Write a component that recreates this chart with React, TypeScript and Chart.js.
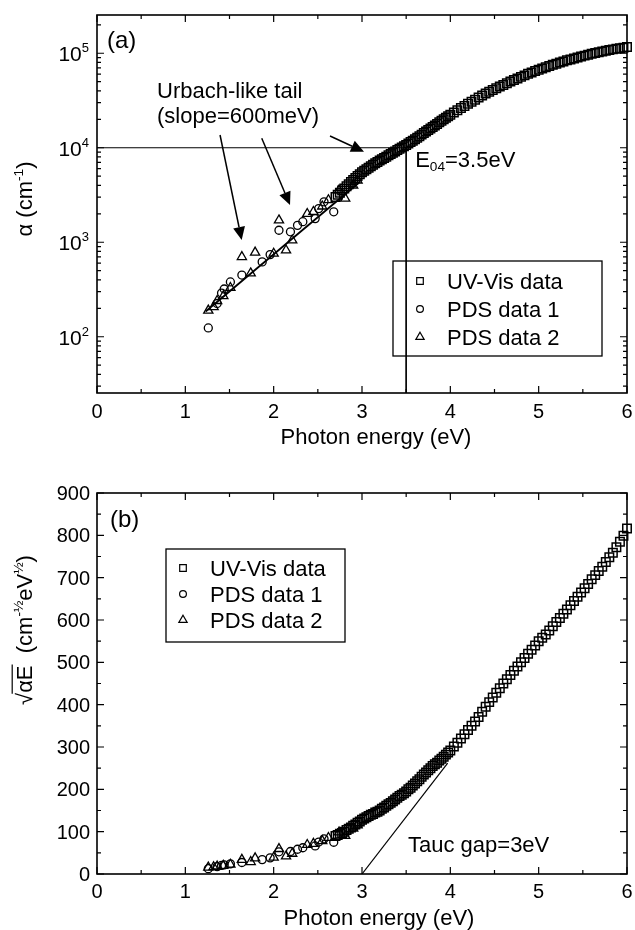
import React, { useEffect, useRef } from 'react';
import { Chart, registerables } from 'chart.js';
Chart.register(...registerables);

// ---------------- DATA ----------------
const xTickValues = [0, 1, 2, 3, 4, 5, 6];
const yTicksA = [100, 1000, 10000, 100000];
const yTicksB = [0, 100, 200, 300, 400, 500, 600, 700, 800, 900];

const uvEnergy = [
  2.7, 2.725, 2.75, 2.775, 2.8, 2.825, 2.85, 2.875, 2.9, 2.925, 2.95, 2.975, 3.0, 3.025, 3.05, 3.075, 3.1, 3.125,
  3.15, 3.175, 3.2, 3.225, 3.25, 3.275, 3.3, 3.325, 3.35, 3.375, 3.4, 3.425, 3.45, 3.475, 3.5, 3.525, 3.55, 3.575,
  3.6, 3.625, 3.65, 3.675, 3.7, 3.725, 3.75, 3.775, 3.8, 3.825, 3.85, 3.875, 3.9, 3.925, 3.95, 3.975, 4.0,
  4.04, 4.08, 4.12, 4.16, 4.2, 4.24, 4.28, 4.32, 4.36, 4.4, 4.44, 4.48, 4.52, 4.56, 4.6, 4.64, 4.68, 4.72, 4.76, 4.8,
  4.84, 4.88, 4.92, 4.96, 5.0, 5.04, 5.08, 5.12, 5.16, 5.2, 5.24, 5.28, 5.32, 5.36, 5.4, 5.44, 5.48, 5.52, 5.56, 5.6,
  5.64, 5.68, 5.72, 5.76, 5.8, 5.84, 5.88, 5.92, 5.96, 6.0,
];
// panel (a): absorption coefficient alpha (cm^-1)
const uvAlpha = [
  3020, 3181, 3350, 3528, 3715, 3913, 4121, 4340, 4571, 4786, 5012, 5248, 5495, 5702, 5922, 6152, 6383, 6607,
  6839, 7079, 7328, 7568, 7807, 8054, 8318, 8590, 8861, 9141, 9441, 9750, 10058, 10375, 10715, 11092, 11482, 11885,
  12303, 12764, 13262, 13772, 14289, 14825, 15396, 15996, 16596, 17219, 17885, 18578, 19275, 19999, 20773, 21577, 22387,
  23660, 25003, 26363, 27733, 29174, 30690, 32285, 33963, 35727, 37584, 39174, 40832, 42560, 44361, 46238, 48195,
  50234, 52240, 54200, 56234, 58345, 60534, 62661, 64714, 66834, 69024, 71285, 73451, 75509, 77625, 79799, 82035,
  84140, 86099, 88105, 90157, 92257, 94406, 96605, 98855, 100693, 102565, 104472, 106414, 108393, 109901, 111429,
  112980, 114551, 116145,
];
// panel (b): sqrt(alpha*E)
const uvTauc = [
  90, 92, 95, 97, 100, 104, 107, 110, 114, 117, 121, 124, 128, 131, 134, 137, 140, 142, 145, 147, 150, 154, 157, 161,
  165, 168, 172, 176, 180, 184, 187, 191, 195, 200, 204, 209, 214, 219, 224, 230, 235, 240, 245, 250, 255, 259, 263,
  268, 272, 277, 282, 287, 292,
  301, 310, 320, 330, 340, 350, 360, 371, 383, 395, 406, 417, 428, 439, 450, 460, 470, 480, 490, 500, 510, 520, 530,
  540, 550, 558, 566, 575, 585, 595, 605, 615, 625, 635, 645, 655, 665, 675, 685, 696, 706, 716, 726, 737, 748, 759,
  772, 785, 799, 816,
];

const pds1Energy = [1.26, 1.36, 1.41, 1.44, 1.51, 1.64, 1.87, 1.96, 2.06, 2.19, 2.27, 2.33, 2.47, 2.51, 2.57, 2.68];
const pds1Alpha = [124, 225, 290, 320, 380, 450, 620, 740, 1340, 1290, 1510, 1650, 1780, 2270, 2680, 2100];
const pds1Tauc = [12.5, 17.5, 20.2, 21.5, 24.0, 27.2, 34.0, 38.1, 52.5, 53.2, 58.5, 62.0, 66.3, 75.5, 83.0, 75.0];

const pds2Energy = [1.26, 1.32, 1.36, 1.43, 1.51, 1.64, 1.74, 1.79, 2.0, 2.06, 2.14, 2.21, 2.38, 2.45, 2.55, 2.62, 2.74, 2.81, 2.9, 2.95];
const pds2Alpha = [190, 207, 240, 270, 330, 700, 470, 780, 760, 1710, 822, 1050, 2000, 2100, 2400, 2800, 3550, 2900, 4000, 4500];
const pds2Tauc = [15.5, 16.5, 18.1, 19.6, 22.3, 33.9, 28.6, 37.4, 39.0, 59.4, 41.9, 48.2, 69.0, 71.7, 78.2, 85.6, 98.6, 90.3, 107.7, 115.2];

const urbachEnergy = [1.23, 2.98];
const urbachAlpha = [185, 4400];
const e04Energy = 3.5;
const e04Alpha = 10000;
const taucLineEnergy = [3.0, 3.97];
const taucLineValue = [0, 262];

const seriesLabels = ['UV-Vis data', 'PDS data 1', 'PDS data 2'];

// ---------------- HELPERS ----------------
const FONT = '"Liberation Sans", Arial, Helvetica, sans-serif';
const W = 635;
const H = 465;
const Y_MIN_A = 25.4;
const Y_MAX_A = 254000;

type Seg = { t: string; sup?: boolean; sub?: boolean; over?: boolean };

function segSize(size: number, s: Seg) {
  return s.sup || s.sub ? size * 0.62 : size;
}
function richWidth(ctx: CanvasRenderingContext2D, segs: Seg[], size: number) {
  let w = 0;
  for (const s of segs) {
    ctx.font = `${segSize(size, s)}px ${FONT}`;
    w += ctx.measureText(s.t).width;
  }
  return w;
}
function drawRich(ctx: CanvasRenderingContext2D, segs: Seg[], x: number, y: number, size: number, align = 'left') {
  const w = richWidth(ctx, segs, size);
  let cx = align === 'left' ? x : align === 'center' ? x - w / 2 : x - w;
  ctx.textAlign = 'left';
  ctx.textBaseline = 'alphabetic';
  ctx.fillStyle = '#000';
  for (const s of segs) {
    ctx.font = `${segSize(size, s)}px ${FONT}`;
    const dy = s.sup ? -size * 0.42 : s.sub ? size * 0.2 : 0;
    ctx.fillText(s.t, cx, y + dy);
    const sw = ctx.measureText(s.t).width;
    if (s.over) {
      ctx.beginPath();
      ctx.lineWidth = 1.2;
      ctx.strokeStyle = '#000';
      ctx.moveTo(cx - 1, y - size * 0.9);
      ctx.lineTo(cx + sw + 1, y - size * 0.9);
      ctx.stroke();
    }
    cx += sw;
  }
}
function drawRotated(ctx: CanvasRenderingContext2D, segs: Seg[], x: number, y: number, size: number) {
  ctx.save();
  ctx.translate(x, y);
  ctx.rotate(-Math.PI / 2);
  drawRich(ctx, segs, 0, 0, size, 'center');
  ctx.restore();
}
function drawFrame(ctx: CanvasRenderingContext2D, area: any) {
  ctx.strokeStyle = '#000';
  ctx.lineWidth = 1.6;
  ctx.strokeRect(area.left, area.top, area.right - area.left, area.bottom - area.top);
}
function xTick(ctx: CanvasRenderingContext2D, px: number, area: any, len: number) {
  ctx.beginPath();
  ctx.moveTo(px, area.bottom);
  ctx.lineTo(px, area.bottom - len);
  ctx.moveTo(px, area.top);
  ctx.lineTo(px, area.top + len);
  ctx.stroke();
}
function yTick(ctx: CanvasRenderingContext2D, py: number, area: any, len: number) {
  ctx.beginPath();
  ctx.moveTo(area.left, py);
  ctx.lineTo(area.left + len, py);
  ctx.moveTo(area.right, py);
  ctx.lineTo(area.right - len, py);
  ctx.stroke();
}
function drawArrow(ctx: CanvasRenderingContext2D, x1: number, y1: number, x2: number, y2: number) {
  const dx = x2 - x1, dy = y2 - y1;
  const L = Math.hypot(dx, dy);
  const ux = dx / L, uy = dy / L;
  const hl = 13, hw = 6;
  const bx = x2 - ux * hl, by = y2 - uy * hl;
  ctx.beginPath();
  ctx.lineWidth = 1.5;
  ctx.moveTo(x1, y1);
  ctx.lineTo(bx, by);
  ctx.stroke();
  ctx.beginPath();
  ctx.moveTo(x2, y2);
  ctx.lineTo(bx - uy * hw, by + ux * hw);
  ctx.lineTo(bx + uy * hw, by - ux * hw);
  ctx.closePath();
  ctx.fillStyle = '#000';
  ctx.fill();
}
function marker(ctx: CanvasRenderingContext2D, kind: number, x: number, y: number) {
  ctx.beginPath();
  ctx.lineWidth = 1.2;
  ctx.strokeStyle = '#000';
  if (kind === 0) {
    ctx.rect(x - 3.3, y - 3.3, 6.6, 6.6);
  } else if (kind === 1) {
    ctx.arc(x, y, 3.4, 0, Math.PI * 2);
  } else {
    const r = 4.8;
    ctx.moveTo(x, y - r);
    ctx.lineTo(x + r * 0.866, y + r * 0.5);
    ctx.lineTo(x - r * 0.866, y + r * 0.5);
    ctx.closePath();
  }
  ctx.stroke();
}
function drawLegend(ctx: CanvasRenderingContext2D, bx: number, by: number, bw: number, bh: number, rows: number[], mx: number, tx: number) {
  ctx.lineWidth = 1.3;
  ctx.strokeStyle = '#000';
  ctx.strokeRect(bx, by, bw, bh);
  rows.forEach((ry, i) => {
    marker(ctx, i, mx, ry);
    drawRich(ctx, [{ t: seriesLabels[i] }], tx, ry + 8, 22, 'left');
  });
}
const pts = (xs: number[], ys: number[]) => xs.map((x, i) => ({ x, y: ys[i] }));

const markerDs = (label: string, data: any[], style: string, r: number, bw: number) => ({
  label,
  data,
  pointStyle: style,
  pointRadius: r,
  pointBorderWidth: bw,
  borderColor: '#000',
  pointBorderColor: '#000',
  backgroundColor: 'rgba(255,255,255,0)',
  pointBackgroundColor: 'rgba(255,255,255,0)',
  showLine: false,
  clip: false,
});
const lineDs = (data: any[], w: number) => ({
  data,
  showLine: true,
  borderColor: '#000',
  borderWidth: w,
  pointRadius: 0,
  fill: false,
});

// ---------------- PLUGINS ----------------
const plugA = {
  id: 'panelA',
  afterDatasetsDraw(chart: any) {
    const ctx: CanvasRenderingContext2D = chart.ctx;
    const xs = chart.scales.x, ys = chart.scales.y;
    const area = chart.chartArea;
    ctx.save();
    drawFrame(ctx, area);
    ctx.lineWidth = 1.2;
    for (const v of xTickValues) xTick(ctx, xs.getPixelForValue(v), area, 7);
    for (let i = 0; i < xTickValues.length - 1; i++) xTick(ctx, xs.getPixelForValue(xTickValues[i] + 0.5), area, 4);
    for (let d = 1; d <= 5; d++) {
      for (let m = 1; m <= 9; m++) {
        const v = m * Math.pow(10, d);
        if (v < Y_MIN_A || v > Y_MAX_A) continue;
        yTick(ctx, ys.getPixelForValue(v), area, m === 1 ? 7 : 4);
      }
    }
    for (const v of xTickValues) drawRich(ctx, [{ t: String(v) }], xs.getPixelForValue(v), 418, 20, 'center');
    for (const v of yTicksA) {
      const e = Math.round(Math.log10(v));
      drawRich(ctx, [{ t: '10' }, { t: String(e), sup: true }], area.left - 8, ys.getPixelForValue(v) + 8, 21, 'right');
    }
    drawRich(ctx, [{ t: 'Photon energy (eV)' }], 376, 444, 22, 'center');
    drawRotated(ctx, [{ t: 'α (cm' }, { t: '-1', sup: true }, { t: ')' }], 32, 199, 22);

    drawRich(ctx, [{ t: '(a)' }], area.left + 10, 48, 24, 'left');
    drawRich(ctx, [{ t: 'Urbach-like tail' }], 157, 98, 22, 'left');
    drawRich(ctx, [{ t: '(slope=600meV)' }], 157, 123, 22, 'left');
    drawRich(ctx, [{ t: 'E' }, { t: '04', sub: true }, { t: '=3.5eV' }], xs.getPixelForValue(e04Energy) + 9, 167, 22, 'left');

    const arrows = [
      [1.393, 13650, 1.638, 1057],
      [1.865, 12600, 2.185, 2480],
      [2.638, 13300, 3.023, 9080],
    ];
    ctx.strokeStyle = '#000';
    for (const a of arrows) {
      drawArrow(ctx, xs.getPixelForValue(a[0]), ys.getPixelForValue(a[1]), xs.getPixelForValue(a[2]), ys.getPixelForValue(a[3]));
    }
    drawLegend(ctx, 393, 261, 209, 95, [281, 309, 337], 420, 447);
    ctx.restore();
  },
};

const plugB = {
  id: 'panelB',
  afterDatasetsDraw(chart: any) {
    const ctx: CanvasRenderingContext2D = chart.ctx;
    const xs = chart.scales.x, ys = chart.scales.y;
    const area = chart.chartArea;
    ctx.save();
    drawFrame(ctx, area);
    ctx.lineWidth = 1.2;
    for (const v of xTickValues) xTick(ctx, xs.getPixelForValue(v), area, 7);
    for (let i = 0; i < xTickValues.length - 1; i++) xTick(ctx, xs.getPixelForValue(xTickValues[i] + 0.5), area, 4);
    for (const v of yTicksB) yTick(ctx, ys.getPixelForValue(v), area, 7);
    for (let i = 0; i < yTicksB.length - 1; i++) yTick(ctx, ys.getPixelForValue(yTicksB[i] + 50), area, 4);
    for (const v of xTickValues) drawRich(ctx, [{ t: String(v) }], xs.getPixelForValue(v), 433, 20, 'center');
    for (const v of yTicksB) drawRich(ctx, [{ t: String(v) }], area.left - 7, ys.getPixelForValue(v) + 7, 20, 'right');
    drawRich(ctx, [{ t: 'Photon energy (eV)' }], 379, 460, 22, 'center');
    drawRotated(
      ctx,
      [{ t: '√' }, { t: 'αE', over: true }, { t: '  (cm' }, { t: '-½', sup: true }, { t: 'eV' }, { t: '½', sup: true }, { t: ')' }],
      32,
      165,
      22,
    );
    drawRich(ctx, [{ t: '(b)' }], area.left + 13, 62, 24, 'left');
    drawRich(ctx, [{ t: 'Tauc gap=3eV' }], 408, 387, 22, 'left');
    drawLegend(ctx, 166, 84, 179, 93, [103, 129, 155], 183, 210);
    ctx.restore();
  },
};

function baseOptions(padding: any, yScale: any) {
  return {
    responsive: false,
    maintainAspectRatio: false,
    animation: false,
    events: [],
    layout: { padding },
    scales: {
      x: { type: 'linear', min: 0, max: 6, display: false },
      y: yScale,
    },
    plugins: { legend: { display: false }, tooltip: { enabled: false } },
  };
}

export default function App() {
  const refA = useRef<HTMLCanvasElement>(null);
  const refB = useRef<HTMLCanvasElement>(null);
  useEffect(() => {
    const a = new Chart(refA.current as HTMLCanvasElement, {
      type: 'scatter',
      data: {
        datasets: [
          markerDs(seriesLabels[0], pts(uvEnergy, uvAlpha), 'rect', 6, 1.5),
          markerDs(seriesLabels[1], pts(pds1Energy, pds1Alpha), 'circle', 4, 1.3),
          markerDs(seriesLabels[2], pts(pds2Energy, pds2Alpha), 'triangle', 5.3, 1.3),
          lineDs(pts(urbachEnergy, urbachAlpha), 1.8),
          lineDs([{ x: 0, y: e04Alpha }, { x: e04Energy, y: e04Alpha }], 1),
          lineDs([{ x: e04Energy, y: e04Alpha }, { x: e04Energy, y: Y_MIN_A }], 1),
        ] as any,
      },
      options: baseOptions(
        { left: 97, right: 8, top: 15, bottom: 72 },
        { type: 'logarithmic', min: Y_MIN_A, max: Y_MAX_A, display: false },
      ) as any,
      plugins: [plugA],
    });
    const b = new Chart(refB.current as HTMLCanvasElement, {
      type: 'scatter',
      data: {
        datasets: [
          markerDs(seriesLabels[0], pts(uvEnergy, uvTauc), 'rect', 6, 1.5),
          markerDs(seriesLabels[1], pts(pds1Energy, pds1Tauc), 'circle', 4, 1.3),
          markerDs(seriesLabels[2], pts(pds2Energy, pds2Tauc), 'triangle', 5.3, 1.3),
          lineDs(pts(taucLineEnergy, taucLineValue), 1.2),
        ] as any,
      },
      options: baseOptions(
        { left: 97, right: 8, top: 28, bottom: 56 },
        { type: 'linear', min: 0, max: 900, display: false },
      ) as any,
      plugins: [plugB],
    });
    return () => {
      a.destroy();
      b.destroy();
    };
  }, []);
  return (
    <div style={{ position: 'absolute', left: 0, top: 0, width: W, height: 930, background: '#fff' }}>
      <canvas ref={refA} width={W} height={H} style={{ position: 'absolute', left: 0, top: 0, width: W, height: H }} />
      <canvas ref={refB} width={W} height={H} style={{ position: 'absolute', left: 0, top: H, width: W, height: H }} />
    </div>
  );
}
